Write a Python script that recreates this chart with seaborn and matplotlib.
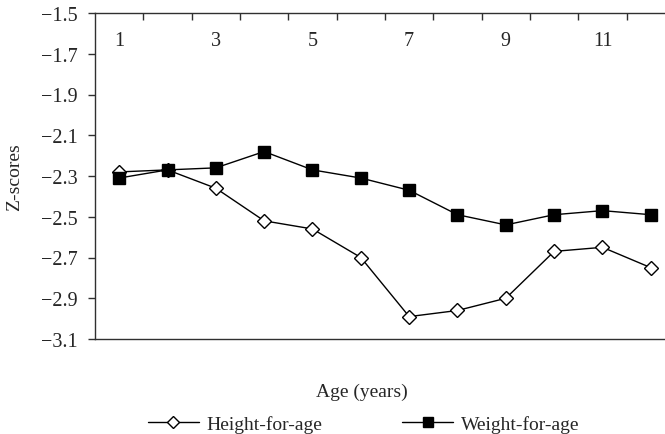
import matplotlib
matplotlib.use("Agg")
import matplotlib.pyplot as plt
import seaborn as sns
import pandas as pd
import numpy as np
from matplotlib.ticker import FixedLocator, NullFormatter, FixedFormatter

ages = [1, 2, 3, 4, 5, 6, 7, 8, 9, 10, 11, 12]
height_for_age = [-2.28, -2.27, -2.36, -2.52, -2.56, -2.70, -2.99, -2.96, -2.90, -2.67, -2.65, -2.75]
weight_for_age = [-2.31, -2.27, -2.26, -2.18, -2.27, -2.31, -2.37, -2.49, -2.54, -2.49, -2.47, -2.49]
y_ticks = [-1.5, -1.7, -1.9, -2.1, -2.3, -2.5, -2.7, -2.9, -3.1]
x_tick_labels = ["1", "3", "5", "7", "9", "11"]

sns.set_theme(style="white")
plt.rcParams['font.family'] = ['Liberation Serif', 'DejaVu Serif']
plt.rcParams['font.size'] = 14

fig = plt.figure(figsize=(6.65, 4.35), dpi=100)
ax = fig.add_axes([95/665, 1 - 340/435, 580/665, 326/435])

df_h = pd.DataFrame({"age": ages, "z": height_for_age})
df_w = pd.DataFrame({"age": ages, "z": weight_for_age})

sns.lineplot(data=df_h, x="age", y="z", ax=ax, color="black", linewidth=1.0,
             marker="D", markersize=7.5, markerfacecolor="white",
             markeredgecolor="black", markeredgewidth=1.0,
             label="Height-for-age")
sns.lineplot(data=df_w, x="age", y="z", ax=ax, color="black", linewidth=1.0,
             marker="s", markersize=9.3, markerfacecolor="black",
             markeredgecolor="black", markeredgewidth=1.0,
             label="Weight-for-age")

ax.set_xlim(0.5, 12.5)
ax.set_ylim(-3.1, -1.5)

spine_color = "#303030"
for s in ["left", "top", "bottom"]:
    ax.spines[s].set_visible(True)
    ax.spines[s].set_color(spine_color)
    ax.spines[s].set_linewidth(1.0)
ax.spines["right"].set_visible(False)

ax.set_yticks(y_ticks)
ax.set_yticklabels([f"{v:.1f}".replace("-", "\u2212") for v in y_ticks])
ax.tick_params(axis="y", which="major", direction="out", length=5, width=1.0,
               color=spine_color, left=True, labelsize=14.5, pad=7.5)

# x axis: tick marks between categories on the top line, labels inside
ax.xaxis.set_major_locator(FixedLocator([a + 0.5 for a in ages[:-1]]))
ax.xaxis.set_major_formatter(NullFormatter())
label_pos = [float(l) for l in x_tick_labels]
ax.xaxis.set_minor_locator(FixedLocator(label_pos))
ax.xaxis.set_minor_formatter(FixedFormatter(x_tick_labels))
ax.tick_params(axis="x", which="major", direction="in", length=5, width=1.0,
               color=spine_color, top=True, bottom=False,
               labeltop=False, labelbottom=False)
ax.tick_params(axis="x", which="minor", length=0, top=True, bottom=False,
               labeltop=True, labelbottom=False, labelsize=14.5, pad=-27)

ax.set_xlabel("Age (years)", fontsize=14)
ax.xaxis.set_label_coords(0.46, -0.135)
ax.set_ylabel("Z-scores", fontsize=14)
ax.yaxis.set_label_coords(-0.124, 0.5)

ax.legend(loc="center left", bbox_to_anchor=(148/665, 1 - 425/435),
          bbox_transform=fig.transFigure, ncol=2, frameon=False,
          fontsize=14, handlelength=2.6, handletextpad=0.42,
          columnspacing=4.1, borderpad=0, borderaxespad=0, markerscale=0.85)

fig.savefig("out.png", dpi=100)
